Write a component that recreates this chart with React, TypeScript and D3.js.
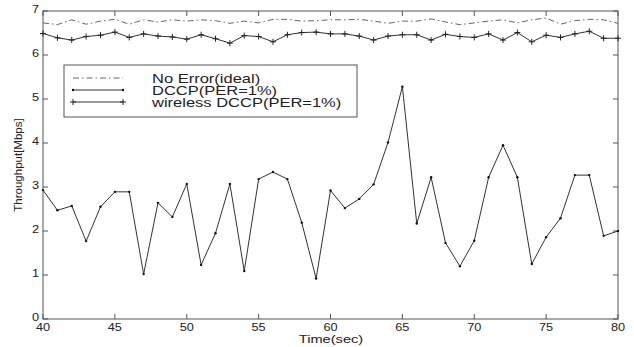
import React from "react";
import * as d3 from "d3";

const times: number[] = d3.range(40, 81);
const noError: number[] = [
  6.73, 6.69, 6.8, 6.7, 6.77, 6.81, 6.7, 6.8, 6.75, 6.8,
  6.77, 6.8, 6.78, 6.72, 6.77, 6.73, 6.81, 6.81, 6.77, 6.78,
  6.8, 6.8, 6.81, 6.77, 6.72, 6.77, 6.77, 6.82, 6.75, 6.69,
  6.73, 6.77, 6.8, 6.73, 6.8, 6.84, 6.7, 6.78, 6.81, 6.8, 6.72,
];
const dccp: number[] = [
  2.93, 2.47, 2.57, 1.77, 2.55, 2.89, 2.89, 1.02, 2.64, 2.32,
  3.07, 1.23, 1.95, 3.07, 1.09, 3.18, 3.34, 3.18, 2.19, 0.92,
  2.92, 2.52, 2.73, 3.06, 4.01, 5.28, 2.17, 3.22, 1.73, 1.2,
  1.78, 3.22, 3.95, 3.22, 1.25, 1.86, 2.29, 3.27, 3.27, 1.89, 2.0,
];
const wireless: number[] = [
  6.49, 6.39, 6.34, 6.42, 6.45, 6.52, 6.4, 6.48, 6.43, 6.41,
  6.36, 6.46, 6.37, 6.27, 6.44, 6.42, 6.3, 6.46, 6.51, 6.52,
  6.48, 6.48, 6.43, 6.34, 6.43, 6.46, 6.46, 6.34, 6.47, 6.42,
  6.4, 6.48, 6.34, 6.51, 6.3, 6.45, 6.4, 6.48, 6.54, 6.38, 6.38,
];
const xTicks: number[] = [40, 45, 50, 55, 60, 65, 70, 75, 80];
const yTicks: number[] = [0, 1, 2, 3, 4, 5, 6, 7];
const legendLabels: string[] = ["No Error(ideal)", "DCCP(PER=1%)", "wireless DCCP(PER=1%)"];

const font = "'Liberation Sans', Arial, Helvetica, sans-serif";
const SX = 1.27;

function T(props: { x: number; y: number; size: number; anchor?: string; children: React.ReactNode }) {
  return (
    <text
      transform={`translate(${props.x},${props.y}) scale(${SX},1)`}
      fontSize={props.size}
      fontFamily={font}
      textAnchor={props.anchor || "start"}
      fill="#222"
    >
      {props.children}
    </text>
  );
}

export default function App() {
  const W = 634, H = 347;
  const left = 43, right = 618, top = 11, bottom = 319;
  const x = d3.scaleLinear().domain([40, 80]).range([left, right]);
  const y = d3.scaleLinear().domain([0, 7]).range([bottom, top]);
  const line = d3.line<number>().x((_, i) => x(times[i])).y((d) => y(d));
  const col = "#333";
  const axisCol = "#555";
  const tl = 5;

  return (
    <svg width={W} height={H} style={{ position: "absolute", left: 0, top: 0, background: "#fff" }}>
      <rect x={0} y={0} width={W} height={H} fill="#fff" />
      <rect x={left} y={top} width={right - left} height={bottom - top} fill="none" stroke={axisCol} strokeWidth={1} />
      {xTicks.map((t) => (
        <g key={"x" + t}>
          <line x1={x(t)} x2={x(t)} y1={bottom} y2={bottom - tl} stroke={axisCol} />
          <line x1={x(t)} x2={x(t)} y1={top} y2={top + tl} stroke={axisCol} />
          <T x={x(t)} y={331} size={10} anchor="middle">{t}</T>
        </g>
      ))}
      {yTicks.map((t) => (
        <g key={"y" + t}>
          <line x1={left} x2={left + tl} y1={y(t)} y2={y(t)} stroke={axisCol} />
          <line x1={right} x2={right - tl} y1={y(t)} y2={y(t)} stroke={axisCol} />
          <T x={left - 4} y={y(t) + 2} size={10} anchor="end">{t}</T>
        </g>
      ))}
      <T x={331} y={343} size={11.5} anchor="middle">Time(sec)</T>
      <text transform={`translate(22,${(top + bottom) / 2}) rotate(-90)`} fontSize={11.5} fontFamily={font} textAnchor="middle" fill="#222">Throughput[Mbps]</text>

      <path d={line(noError) || ""} fill="none" stroke="#666" strokeWidth={1} strokeDasharray="6,3,1.5,3" />
      <path d={line(dccp) || ""} fill="none" stroke={col} strokeWidth={1} />
      {dccp.map((d, i) => (
        <circle key={"d" + i} cx={x(times[i])} cy={y(d)} r={1.2} fill="#111" />
      ))}
      <path d={line(wireless) || ""} fill="none" stroke={col} strokeWidth={1} />
      {wireless.map((d, i) => (
        <path key={"w" + i} d={`M${x(times[i]) - 3},${y(d)}H${x(times[i]) + 3}M${x(times[i])},${y(d) - 3}V${y(d) + 3}`} stroke="#222" strokeWidth={1} />
      ))}

      <rect x={64} y={65} width={293} height={52} fill="#fff" stroke={axisCol} strokeWidth={1} />
      <line x1={73} x2={123} y1={78} y2={78} stroke="#666" strokeDasharray="6,3,1.5,3" />
      <line x1={73} x2={123} y1={90} y2={90} stroke={col} />
      <circle cx={73} cy={90} r={1.2} fill="#111" />
      <circle cx={123} cy={90} r={1.2} fill="#111" />
      <line x1={73} x2={123} y1={102} y2={102} stroke={col} />
      <path d="M70,102H76M73,99V105M120,102H126M123,99V105" stroke="#222" />
      {legendLabels.map((l, i) => (
        <T key={l} x={152} y={82.5 + i * 12} size={13}>{l}</T>
      ))}
    </svg>
  );
}
